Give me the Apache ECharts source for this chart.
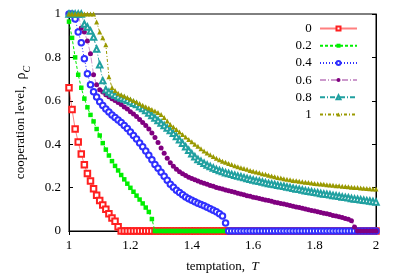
<!DOCTYPE html>
<html><head><meta charset="utf-8">
<script src="https://cdn.jsdelivr.net/npm/echarts@6/dist/echarts.min.js"></script>
<style>html,body{margin:0;padding:0;background:#fff}#c{width:409px;height:278px}</style>
</head><body><div id="c"></div>
<script>
const T = [1.00,1.01,1.02,1.03,1.04,1.05,1.06,1.07,1.08,1.09,
1.10,1.11,1.12,1.13,1.14,1.15,1.16,1.17,1.18,1.19,
1.20,1.21,1.22,1.23,1.24,1.25,1.26,1.27,1.28,1.29,
1.30,1.31,1.32,1.33,1.34,1.35,1.36,1.37,1.38,1.39,
1.40,1.41,1.42,1.43,1.44,1.45,1.46,1.47,1.48,1.49,
1.50,1.51,1.52,1.53,1.54,1.55,1.56,1.57,1.58,1.59,
1.60,1.61,1.62,1.63,1.64,1.65,1.66,1.67,1.68,1.69,
1.70,1.71,1.72,1.73,1.74,1.75,1.76,1.77,1.78,1.79,
1.80,1.81,1.82,1.83,1.84,1.85,1.86,1.87,1.88,1.89,
1.90,1.91,1.92,1.93,1.94,1.95,1.96,1.97,1.98,1.99,
2.00];
const legendNames = ['0','0.2','0.4','0.6','0.8','1'];
const xTicks = [1,1.2,1.4,1.6,1.8,2];
const yTicks = [0,0.2,0.4,0.6,0.8,1];

const rho_b0 = [0.66,0.56,0.47,0.41,0.355,0.305,0.265,0.23,0.195,0.165,
0.14,0.12,0.10,0.08,0.06,0.045,0.02,0,0,0,
0,0,0,0,0,0,0,0,0,0,
0,0,0,0,0,0,0,0,0,0,
0,0,0,0,0,0,0,0,0,0,
0,0,0,0,0,0,0,0,0,0,
0,0,0,0,0,0,0,0,0,0,
0,0,0,0,0,0,0,0,0,0,
0,0,0,0,0,0,0,0,0,0,
0,0,0,0,0,0,0,0,0,0,
0];
const rho_b02 = [0.965,0.89,0.80,0.72,0.66,0.61,0.57,0.535,0.505,0.47,
0.44,0.405,0.375,0.348,0.322,0.30,0.279,0.258,0.238,0.218,
0.199,0.181,0.163,0.145,0.127,0.108,0.088,0.055,0,0,
0,0,0,0,0,0,0,0,0,0,
0,0,0,0,0,0,0,0,0,0,
0,0,0,0,0,0,0,0,0,0,
0,0,0,0,0,0,0,0,0,0,
0,0,0,0,0,0,0,0,0,0,
0,0,0,0,0,0,0,0,0,0,
0,0,0,0,0,0,0,0,0,0,
0];
const rho_b04 = [1,1,0.977,0.917,0.867,0.794,0.725,0.674,0.642,0.617,
0.596,0.578,0.562,0.548,0.534,0.523,0.511,0.5,0.486,0.472,
0.456,0.44,0.424,0.406,0.388,0.369,0.349,0.328,0.307,0.289,
0.271,0.252,0.234,0.216,0.202,0.188,0.177,0.167,0.157,0.149,
0.142,0.135,0.128,0.122,0.116,0.109,0.103,0.096,0.089,0.08,
0.069,0.037,0,0,0,0,0,0,0,0,
0,0,0,0,0,0,0,0,0,0,
0,0,0,0,0,0,0,0,0,0,
0,0,0,0,0,0,0,0,0,0,
0,0,0,0,0,0,0,0,0,0,
0];
const rho_b06 = [1,1,1,1,0.936,0.917,0.876,0.817,0.72,0.674,
0.651,0.64,0.628,0.619,0.61,0.601,0.592,0.583,0.571,0.562,
0.55,0.539,0.528,0.514,0.5,0.486,0.47,0.452,0.431,0.408,
0.383,0.358,0.335,0.314,0.298,0.284,0.273,0.264,0.256,0.248,
0.242,0.236,0.23,0.225,0.22,0.215,0.21,0.206,0.201,0.197,
0.193,0.189,0.185,0.182,0.178,0.174,0.171,0.167,0.163,0.16,
0.156,0.153,0.15,0.146,0.143,0.14,0.137,0.133,0.13,0.127,
0.124,0.121,0.117,0.114,0.111,0.108,0.105,0.101,0.098,0.095,
0.092,0.089,0.085,0.082,0.079,0.076,0.072,0.069,0.066,0.062,
0.058,0.054,0.047,0.018,0,0,0,0,0,0,
0];
const rho_b08 = [1,1,1,1,1,0.954,0.94,0.922,0.894,0.839,
0.766,0.693,0.651,0.64,0.633,0.626,0.619,0.613,0.608,0.602,
0.596,0.589,0.583,0.573,0.564,0.555,0.544,0.532,0.521,0.509,
0.498,0.486,0.475,0.463,0.45,0.436,0.42,0.404,0.388,0.372,
0.356,0.342,0.33,0.321,0.312,0.304,0.297,0.29,0.284,0.279,
0.274,0.269,0.265,0.261,0.257,0.253,0.25,0.246,0.242,0.239,
0.235,0.232,0.229,0.226,0.222,0.219,0.217,0.214,0.211,0.208,
0.206,0.203,0.2,0.197,0.194,0.192,0.189,0.186,0.183,0.181,
0.178,0.176,0.173,0.171,0.169,0.167,0.164,0.162,0.16,0.157,
0.155,0.153,0.15,0.148,0.146,0.144,0.142,0.14,0.138,0.136,
0.134];
const rho_b1 = [1,1,1,1,1,1,1,1,1,0.963,
0.917,0.89,0.858,0.711,0.661,0.647,0.635,0.628,0.622,0.615,
0.608,0.601,0.594,0.587,0.58,0.573,0.567,0.56,0.553,0.546,
0.537,0.523,0.507,0.491,0.479,0.468,0.456,0.445,0.433,0.422,
0.411,0.4,0.39,0.379,0.369,0.36,0.351,0.343,0.335,0.328,
0.322,0.317,0.311,0.306,0.301,0.296,0.292,0.288,0.284,0.279,
0.275,0.272,0.268,0.264,0.261,0.257,0.253,0.25,0.247,0.244,
0.241,0.238,0.236,0.233,0.231,0.229,0.227,0.225,0.223,0.221,
0.219,0.218,0.217,0.215,0.213,0.212,0.211,0.209,0.208,0.206,
0.205,0.204,0.202,0.201,0.2,0.198,0.197,0.196,0.195,0.194,
0.193];

const seriesValues = [rho_b0, rho_b02, rho_b04, rho_b06, rho_b08, rho_b1];
const styles = [
  {color:'#ff2020', line:'rgba(255,0,0,0.5)', dash:'solid', symbol:'emptyRect', size:5.5},
  {color:'#00ee00', line:'#00ee00', dash:[3,2], symbol:'rect', size:4.5},
  {color:'#3030ff', line:'#3030ff', dash:[1,2], symbol:'emptyCircle', size:5.5},
  {color:'#800080', line:'rgba(128,0,128,0.4)', dash:[6,2,1,2], symbol:'circle', size:5},
  {color:'#20a0a0', line:'#20a0a0', dash:[5,2,1,2], symbol:'emptyTriangle', size:5.5},
  {color:'#999900', line:'#999900', dash:[3,2,1,2], symbol:'triangle', size:5}
];
const FONT = 'Liberation Serif';

const series = seriesValues.map((vals, k) => ({
  name: legendNames[k],
  type: 'line',
  data: vals.map((v, i) => [T[i], v]),
  symbol: styles[k].symbol,
  symbolSize: styles[k].size,
  showAllSymbol: true,
  clip: false,
  itemStyle: {color: styles[k].color, borderWidth: 1},
  lineStyle: {color: styles[k].line, width: 1, type: styles[k].dash},
  z: 2 + k
}));

const chart = echarts.init(document.getElementById('c'), null, {renderer:'canvas'});
chart.setOption({
  animation: false,
  backgroundColor: '#fff',
  textStyle: {fontFamily: FONT},
  grid: {left: 69, right: 33, top: 14, bottom: 45, show: true, borderColor: '#000', borderWidth: 1},
  legend: {
    orient: 'vertical', right: 46, top: 17, align: 'right',
    itemWidth: 37, itemHeight: 5, itemGap: 4.2,
    data: legendNames,
    formatter: n => n + ' ',
    textStyle: {fontFamily: FONT, fontSize: 13, color: '#000'}
  },
  xAxis: [{
    type: 'value', min: 1, max: 2, interval: 0.2,
    name: '{t|temptation,  }{i|T}', nameLocation: 'middle', nameGap: 29,
    nameTextStyle: {fontFamily: FONT, fontSize: 13, color: '#000',
      rich: {t: {fontFamily: FONT, fontSize: 13, color:'#000'}, i: {fontFamily: FONT, fontSize: 13, fontStyle: 'italic', color:'#000'}}},
    axisLine: {show: true, onZero: false, lineStyle: {color: '#000', width: 1}},
    axisTick: {show: true, inside: true, length: 4, lineStyle: {color: '#000'}},
    axisLabel: {fontFamily: FONT, fontSize: 13, color: '#000', margin: 8,
      formatter: v => xTicks.includes(+v.toFixed(1)) ? String(+v.toFixed(1)) : ''},
    splitLine: {show: false}
  }, {
    type: 'value', min: 1, max: 2, interval: 0.2, position: 'top',
    axisLine: {show: true, lineStyle: {color: '#000'}},
    axisTick: {show: true, inside: true, length: 4, lineStyle: {color: '#000'}},
    axisLabel: {show: false}, splitLine: {show: false}
  }],
  yAxis: [{
    type: 'value', min: 0, max: 1, interval: 0.2,
    name: '{t|cooperation level,  }{r|ρ}{s|C}', nameLocation: 'middle', nameGap: 37, nameRotate: 90,
    nameTextStyle: {fontFamily: FONT, fontSize: 13, color: '#000',
      rich: {t: {fontFamily: FONT, fontSize: 13, color:'#000', lineHeight: 22, verticalAlign: 'middle'},
             r: {fontFamily: FONT, fontSize: 14, color:'#000', lineHeight: 22, verticalAlign: 'middle'},
             s: {fontFamily: FONT, fontSize: 10, fontStyle: 'italic', color:'#000', lineHeight: 22, verticalAlign: 'bottom'}}},
    axisLine: {show: true, onZero: false, lineStyle: {color: '#000', width: 1}},
    axisTick: {show: true, inside: true, length: 4, lineStyle: {color: '#000'}},
    axisLabel: {fontFamily: FONT, fontSize: 13, color: '#000', margin: 8,
      formatter: v => yTicks.includes(+v.toFixed(1)) ? String(+v.toFixed(1)) : ''},
    splitLine: {show: false}
  }, {
    type: 'value', min: 0, max: 1, interval: 0.2, position: 'right',
    axisLine: {show: true, lineStyle: {color: '#000'}},
    axisTick: {show: true, inside: true, length: 4, lineStyle: {color: '#000'}},
    axisLabel: {show: false}, splitLine: {show: false}
  }],
  series: series
});
</script></body></html>
